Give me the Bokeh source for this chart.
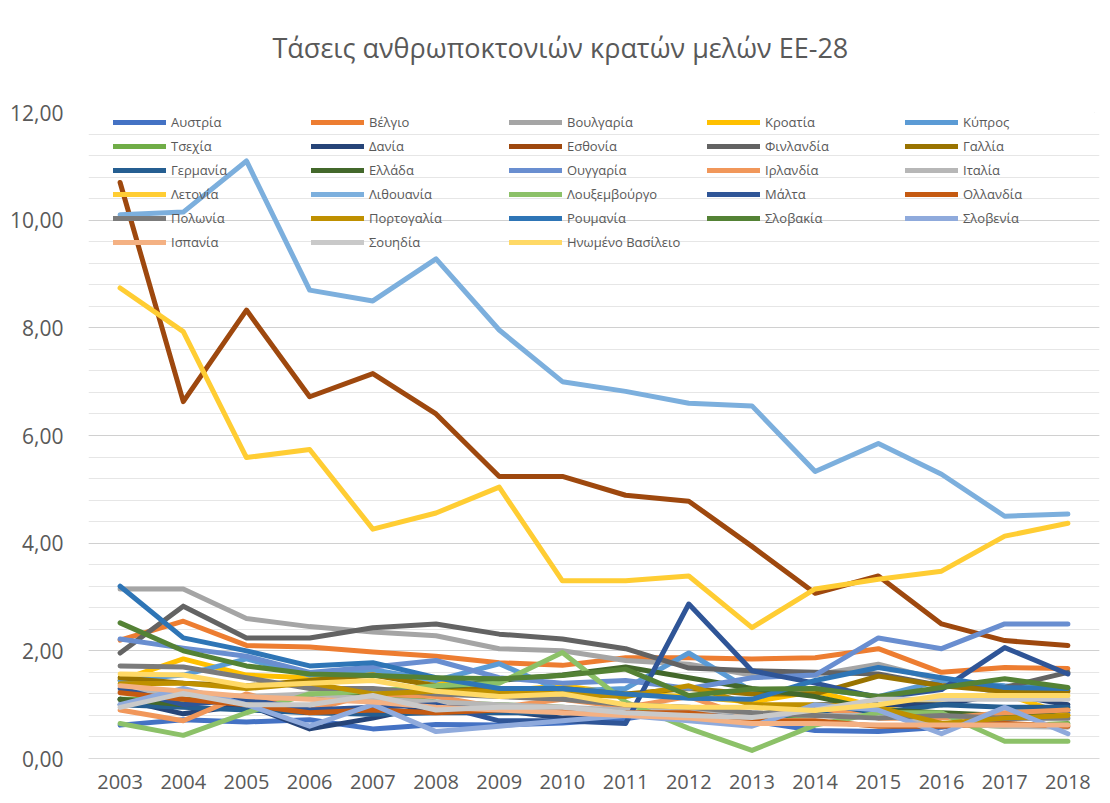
from bokeh.plotting import figure
from bokeh.models import Range1d, FixedTicker, Legend, LegendItem, Title
from bokeh.embed import file_html
from bokeh.resources import INLINE

title_text = "Τάσεις ανθρωποκτονιών κρατών μελών ΕΕ-28"
years = list(range(2003, 2019))
year_labels = [str(y) for y in years]
y_ticks = [0, 2, 4, 6, 8, 10, 12]
y_tick_labels = ["0,00", "2,00", "4,00", "6,00", "8,00", "10,00", "12,00"]

countries = ["Αυστρία", "Βέλγιο", "Βουλγαρία", "Κροατία", "Κύπρος",
             "Τσεχία", "Δανία", "Εσθονία", "Φινλανδία", "Γαλλία",
             "Γερμανία", "Ελλάδα", "Ουγγαρία", "Ιρλανδία", "Ιταλία",
             "Λετονία", "Λιθουανία", "Λουξεμβούργο", "Μάλτα", "Ολλανδία",
             "Πολωνία", "Πορτογαλία", "Ρουμανία", "Σλοβακία", "Σλοβενία",
             "Ισπανία", "Σουηδία", "Ηνωμένο Βασίλειο"]

colors = ["#4472C4", "#ED7D31", "#A5A5A5", "#FFC000", "#5B9BD5",
          "#70AD47", "#264478", "#9E480E", "#636363", "#997300",
          "#255E91", "#43682B", "#698ED0", "#F1975A", "#B7B7B7",
          "#FFCD33", "#7CAFDD", "#8CC168", "#2F5597", "#C55A11",
          "#7B7B7B", "#BF9000", "#2E75B6", "#548235", "#8FAADC",
          "#F4B183", "#C9C9C9", "#FFD966"]

austria = [0.62, 0.72, 0.68, 0.72, 0.55, 0.63, 0.62, 0.66, 0.74, 0.92, 0.70, 0.52, 0.50, 0.58, 0.72, 0.85]
belgium = [2.20, 2.55, 2.10, 2.07, 1.98, 1.90, 1.78, 1.73, 1.87, 1.87, 1.85, 1.87, 2.04, 1.60, 1.69, 1.67]
bulgaria = [3.15, 3.15, 2.60, 2.45, 2.35, 2.28, 2.04, 2.00, 1.82, 1.75, 1.55, 1.55, 1.75, 1.45, 1.20, 1.30]
croatia = [1.45, 1.85, 1.55, 1.50, 1.60, 1.45, 1.25, 1.35, 1.20, 1.15, 1.05, 1.25, 0.95, 1.10, 1.20, 0.80]
cyprus = [1.45, 1.55, 1.85, 1.55, 1.65, 1.45, 1.76, 1.25, 1.30, 1.96, 1.25, 1.30, 1.15, 1.45, 1.35, 1.30]
czechia = [1.10, 1.10, 1.05, 1.20, 1.20, 1.05, 1.00, 0.95, 0.85, 0.80, 0.80, 0.80, 0.85, 0.65, 0.60, 0.65]
denmark = [1.10, 0.83, 1.00, 0.55, 0.75, 1.00, 0.90, 0.75, 0.85, 0.80, 0.80, 1.00, 1.00, 1.00, 1.20, 1.00]
estonia = [10.70, 6.63, 8.33, 6.72, 7.15, 6.40, 5.24, 5.24, 4.89, 4.78, 3.94, 3.07, 3.39, 2.50, 2.19, 2.10]
finland = [1.96, 2.83, 2.24, 2.24, 2.43, 2.50, 2.31, 2.22, 2.04, 1.68, 1.63, 1.60, 1.57, 1.35, 1.32, 1.60]
france = [1.50, 1.40, 1.35, 1.45, 1.55, 1.35, 1.25, 1.30, 1.20, 1.30, 1.20, 1.20, 1.53, 1.35, 1.25, 1.25]
germany = [1.00, 0.95, 0.90, 0.85, 0.82, 0.85, 0.85, 0.85, 0.85, 0.80, 0.75, 0.85, 0.85, 1.00, 0.95, 0.95]
greece = [1.10, 1.00, 1.15, 1.15, 1.25, 1.30, 1.45, 1.55, 1.70, 1.50, 1.30, 1.15, 0.90, 0.85, 0.80, 0.90]
hungary = [2.22, 2.05, 1.90, 1.60, 1.70, 1.82, 1.50, 1.40, 1.45, 1.30, 1.50, 1.55, 2.24, 2.04, 2.50, 2.50]
ireland = [0.90, 0.70, 1.20, 0.90, 1.20, 1.15, 0.95, 1.10, 0.95, 1.15, 0.75, 0.95, 0.75, 0.75, 0.85, 0.90]
italy = [1.25, 1.20, 1.15, 1.20, 1.10, 1.05, 1.00, 0.95, 0.90, 0.90, 0.85, 0.80, 0.80, 0.65, 0.60, 0.58]
latvia = [8.74, 7.93, 5.59, 5.74, 4.26, 4.56, 5.04, 3.30, 3.30, 3.39, 2.43, 3.15, 3.33, 3.48, 4.13, 4.37]
lithuania = [10.10, 10.15, 11.10, 8.70, 8.50, 9.28, 7.96, 7.00, 6.82, 6.60, 6.55, 5.33, 5.85, 5.28, 4.50, 4.54]
luxembourg = [0.65, 0.43, 0.85, 1.20, 1.25, 1.35, 1.40, 1.97, 1.05, 0.56, 0.15, 0.62, 0.85, 0.85, 0.32, 0.32]
malta = [1.30, 1.00, 1.10, 0.90, 0.95, 1.00, 0.70, 0.70, 0.65, 2.87, 1.63, 1.40, 1.13, 1.28, 2.06, 1.57]
netherlands = [1.22, 1.10, 1.00, 0.85, 0.90, 0.85, 0.90, 0.90, 0.85, 0.85, 0.70, 0.70, 0.60, 0.60, 0.65, 0.60]
poland = [1.72, 1.70, 1.50, 1.30, 1.30, 1.20, 1.15, 1.10, 1.00, 0.95, 0.85, 0.80, 0.75, 0.80, 0.75, 0.75]
portugal = [1.39, 1.40, 1.30, 1.40, 1.20, 1.25, 1.25, 1.20, 1.15, 1.35, 1.00, 1.00, 0.95, 0.65, 0.75, 0.80]
romania = [3.20, 2.24, 2.00, 1.72, 1.78, 1.50, 1.30, 1.30, 1.20, 1.12, 1.10, 1.45, 1.69, 1.50, 1.32, 1.30]
slovakia = [2.52, 2.00, 1.72, 1.57, 1.54, 1.50, 1.48, 1.54, 1.66, 1.17, 1.29, 1.30, 1.15, 1.32, 1.48, 1.32]
slovenia = [1.00, 1.30, 1.00, 0.60, 1.00, 0.50, 0.60, 0.70, 0.80, 0.70, 0.60, 1.00, 0.90, 0.46, 0.95, 0.46]
spain = [1.35, 1.25, 1.15, 1.10, 1.05, 0.95, 0.90, 0.85, 0.80, 0.75, 0.65, 0.65, 0.62, 0.62, 0.62, 0.62]
sweden = [0.95, 1.21, 1.00, 1.00, 1.17, 0.90, 0.95, 0.95, 0.85, 0.80, 0.76, 0.90, 1.10, 1.10, 1.10, 1.10]
uk = [1.57, 1.55, 1.35, 1.40, 1.45, 1.25, 1.15, 1.20, 1.00, 0.95, 0.95, 0.89, 1.00, 1.17, 1.17, 1.17]

series = [austria, belgium, bulgaria, croatia, cyprus,
          czechia, denmark, estonia, finland, france,
          germany, greece, hungary, ireland, italy,
          latvia, lithuania, luxembourg, malta, netherlands,
          poland, portugal, romania, slovakia, slovenia,
          spain, sweden, uk]

FONT = "Open Sans"
TXT = "#595959"

p = figure(width=1102, height=795, output_backend="svg", toolbar_location=None,
           title=None,
           x_range=Range1d(2002.5, 2018.5), y_range=Range1d(0, 12),
           min_border_left=88, min_border_right=3, min_border_top=112, min_border_bottom=37)
p.styles = {"outline": "1px solid #D9D9D9", "outline-offset": "-8px"}
p.outline_line_color = None
p.background_fill_color = "white"
p.border_fill_color = "white"

# spacer between the frame and the title, then the title itself
p.add_layout(Title(text=" ", text_font_size="12px", standoff=26), "above")
p.add_layout(Title(text=title_text, align="left", offset=184, text_font=FONT,
                   text_font_size="27px", text_font_style="normal",
                   text_color=TXT, standoff=10), "above")

items = []
for name, vals, col in zip(countries, series, colors):
    r = p.line(years, vals, line_width=5, line_color=col,
               line_cap="round", line_join="round")
    items.append(LegendItem(label=name, renderers=[r]))

# axes
p.xaxis.ticker = FixedTicker(ticks=years)
p.xaxis.major_label_overrides = {y: l for y, l in zip(years, year_labels)}
p.xaxis.axis_line_color = "#D9D9D9"
p.xaxis.axis_line_width = 1
p.xaxis.major_tick_line_color = None
p.xaxis.minor_tick_line_color = None
p.xaxis.major_label_text_font = FONT
p.xaxis.major_label_text_font_size = "20px"
p.xaxis.major_label_text_color = TXT
p.xaxis.major_label_standoff = 10

minor = [round(i * 0.4, 1) for i in range(31)]
p.yaxis.ticker = FixedTicker(ticks=y_ticks, minor_ticks=minor)
p.yaxis.major_label_overrides = {t: l for t, l in zip(y_ticks, y_tick_labels)}
p.yaxis.axis_line_color = None
p.yaxis.major_tick_line_color = None
p.yaxis.minor_tick_line_color = None
p.yaxis.major_label_text_font = FONT
p.yaxis.major_label_text_font_size = "21px"
p.yaxis.major_label_text_color = TXT
p.yaxis.major_label_standoff = 19

p.xgrid.grid_line_color = None
p.ygrid.grid_line_color = "#D0D0D0"
p.ygrid.minor_grid_line_color = "#E6E6E6"

legend = Legend(items=items, orientation="horizontal", ncols=5,
                location=(25, 507), margin=0, padding=0, spacing=6,
                glyph_width=53, glyph_height=12, label_height=12,
                label_width=134, label_standoff=5,
                label_text_font=FONT, label_text_font_size="13px",
                label_text_color=TXT,
                background_fill_alpha=0, border_line_color=None)
p.add_layout(legend, "center")

open("out.html", "w").write(file_html(p, INLINE))
